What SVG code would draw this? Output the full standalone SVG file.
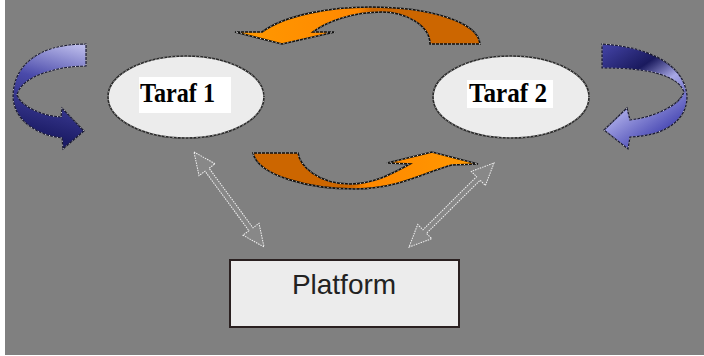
<svg xmlns="http://www.w3.org/2000/svg" xmlns:xlink="http://www.w3.org/1999/xlink" width="704" height="356" viewBox="0 0 704 356">
<style>
.node{fill:#ececec;stroke:#2a2a2a;stroke-width:1.6}
.dots{fill:none;stroke:#ffffff;stroke-width:0.9;stroke-dasharray:1 3}
.lbl{font-family:"Liberation Serif","Times New Roman",serif;font-weight:bold;font-size:28px;fill:#000}
.plat{font-family:"Liberation Sans",Arial,sans-serif;font-size:28px;fill:#222}
.orange{stroke:#111;stroke-width:1.6;stroke-linejoin:miter}
.blue{stroke:#1a1a30;stroke-width:1.2}
.dbl{fill:#888888;stroke:#f2f2f2;stroke-width:1;stroke-dasharray:1.5 1}
</style>
<defs>
<linearGradient id="gTop" x1="235" y1="0" x2="480" y2="0" gradientUnits="userSpaceOnUse">
<stop offset="0" stop-color="#ff9900"/><stop offset="0.5" stop-color="#ff8800"/><stop offset="0.56" stop-color="#cc6600"/><stop offset="1" stop-color="#cc6600"/>
</linearGradient>
<linearGradient id="gBot" x1="253" y1="0" x2="478" y2="0" gradientUnits="userSpaceOnUse">
<stop offset="0" stop-color="#cc6600"/><stop offset="0.44" stop-color="#cc6600"/><stop offset="0.5" stop-color="#ff8800"/><stop offset="1" stop-color="#ff9900"/>
</linearGradient>
<linearGradient id="gBL" x1="86" y1="44" x2="60" y2="140" gradientUnits="userSpaceOnUse">
<stop offset="0" stop-color="#c4c4f0"/><stop offset="0.45" stop-color="#4a4aaa"/><stop offset="1" stop-color="#1c1c66"/>
</linearGradient>
<linearGradient id="gBR" x1="602" y1="50" x2="660" y2="135" gradientUnits="userSpaceOnUse">
<stop offset="0" stop-color="#4040a0"/><stop offset="0.35" stop-color="#1a1a5e"/><stop offset="0.6" stop-color="#a8a8e6"/><stop offset="1" stop-color="#4a4ab4"/>
</linearGradient>
<path id="pTop" d="M480,44 L430,44 C430,25 405,12 382,12 C352,12 326,22 313,32 L335,32 L282,44 L235,32 L262,32 C285,15 330,7 370,7 C430,7 478,22 480,44 Z"/>
<path id="pBot" d="M253,153 L298,153 C300,166 318,184 350,184 C375,184 395,172 410,164 L387,163 L432,152 L478,164 L452,165 C430,170 400,189 355,189 C310,189 258,176 253,153 Z"/>
<path id="pBL" d="M86,44 L86,66 C60,66 22,75 17,95 C22,108 45,116 61,117 L62,108 L84,131 L63,149 L62,138 C40,136 14,122 13,97 C13,68 35,44 86,44 Z"/>
<path id="pBR" d="M602,44 C640,46 683,60 687,95 C688,120 665,136 630,137 L628,149 L604,130 L627,108 L630,120 C655,117 680,105 684,92 C678,75 650,68 602,68 Z"/>
</defs>
<rect x="0" y="0" width="704" height="356" fill="#ffffff"/>
<rect x="5" y="0" width="699" height="355" fill="#808080"/>
<g id="connectors">
<use xlink:href="#pTop" fill="url(#gTop)" class="orange"/>
<use xlink:href="#pTop" class="dots"/>
<use xlink:href="#pBot" fill="url(#gBot)" class="orange"/>
<use xlink:href="#pBot" class="dots"/>
<use xlink:href="#pBL" fill="url(#gBL)" class="blue"/>
<use xlink:href="#pBL" class="dots"/>
<use xlink:href="#pBR" fill="url(#gBR)" class="blue"/>
<use xlink:href="#pBR" class="dots"/>
<polygon class="dbl" transform="translate(194,152) rotate(53.6)" points="0,0 22,-10 22,-2.5 96,-2.5 96,-10 118,0 96,10 96,2.5 22,2.5 22,10"/>
<polygon class="dbl" transform="translate(494,163) rotate(135.3)" points="0,0 22,-10 22,-2.5 97.5,-2.5 97.5,-10 119.5,0 97.5,10 97.5,2.5 22,2.5 22,10"/>
</g>
<g id="taraf1">
<ellipse class="node" cx="186" cy="97" rx="78" ry="41"/>
<ellipse class="dots" cx="186" cy="97" rx="78" ry="41"/>
<rect x="139" y="77" width="92" height="36" fill="#ffffff"/>
<text class="lbl" x="140" y="102" textLength="75" lengthAdjust="spacingAndGlyphs">Taraf 1</text>
</g>
<g id="taraf2">
<ellipse class="node" cx="511" cy="97" rx="78" ry="41"/>
<ellipse class="dots" cx="511" cy="97" rx="78" ry="41"/>
<rect x="467" y="80" width="86" height="28" fill="#ffffff"/>
<text class="lbl" x="469" y="102" textLength="78" lengthAdjust="spacingAndGlyphs">Taraf 2</text>
</g>
<g id="platform">
<rect x="230" y="260" width="229" height="67" fill="#ececec" stroke="#2a2020" stroke-width="2"/>
<text class="plat" x="344" y="294" text-anchor="middle">Platform</text>
</g>
</svg>
